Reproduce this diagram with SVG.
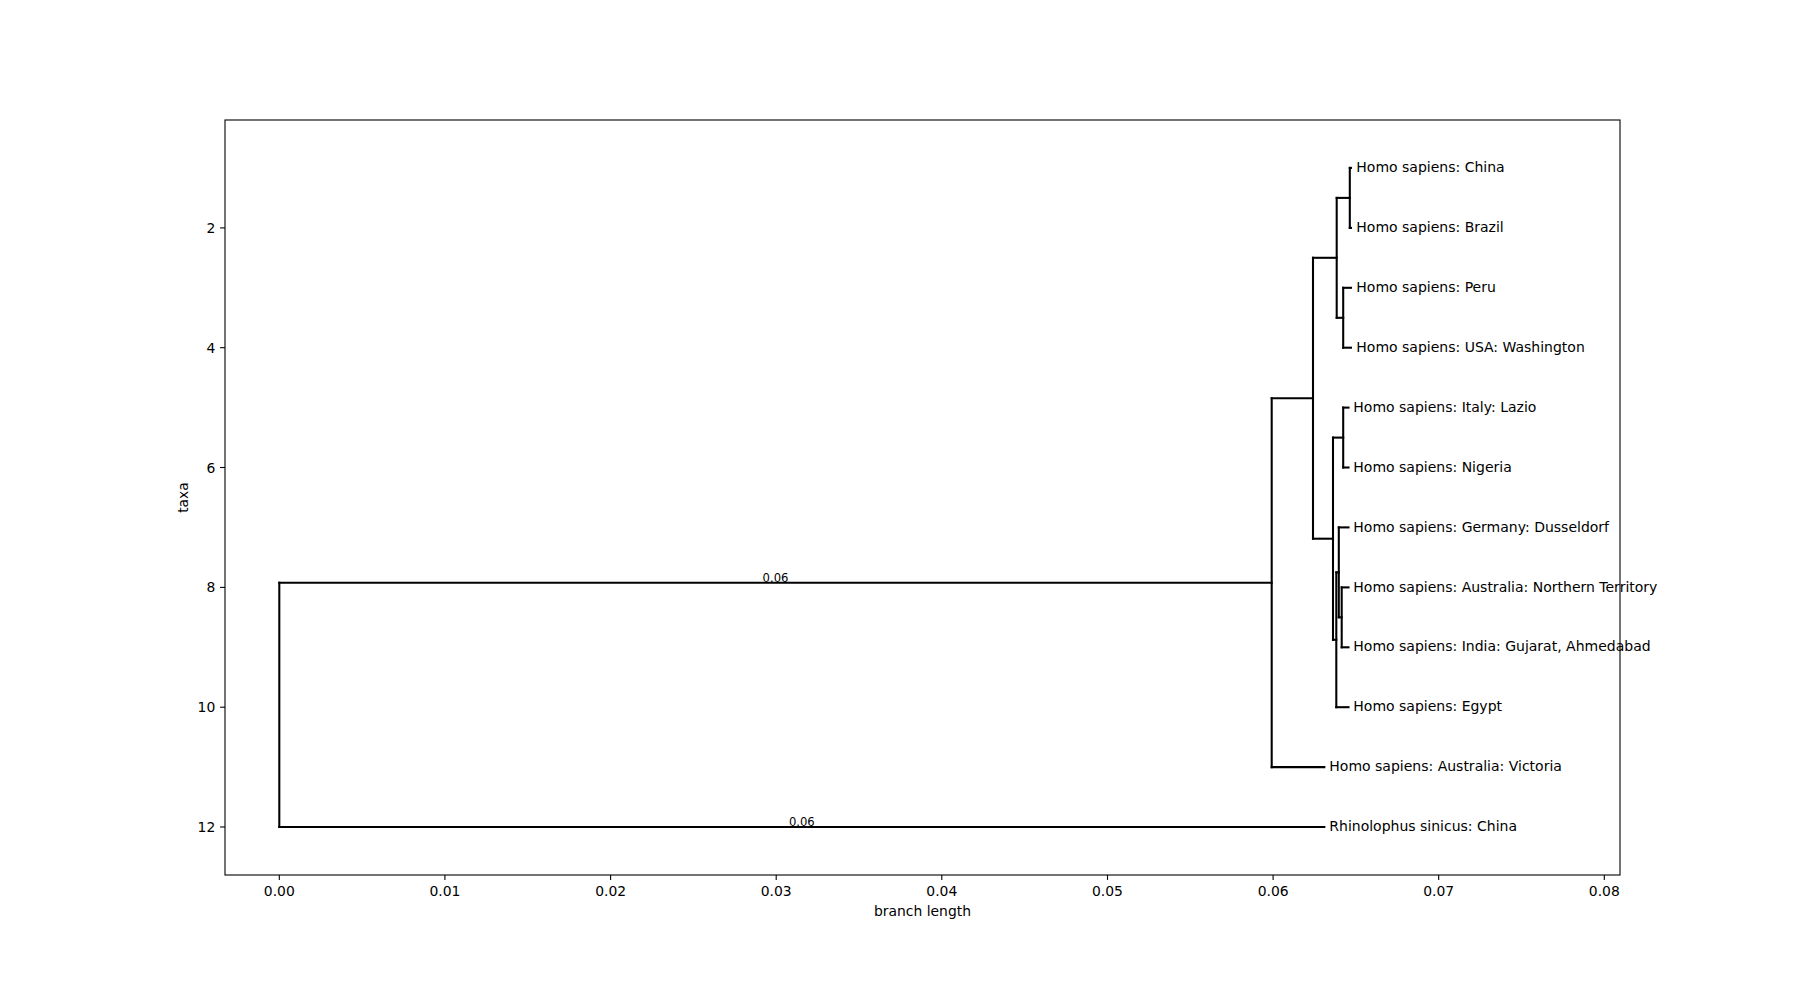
<svg xmlns="http://www.w3.org/2000/svg" width="1800" height="1000" viewBox="0 0 1800 1000">
<style>
text { font-family: "DejaVu Sans", "Liberation Sans", sans-serif; fill: #000; }
.tick { font-size: 13.9px; }
.leaf { font-size: 14px; }
.bl { font-size: 11.6px; text-anchor: middle; }
.axl { font-size: 13.9px; text-anchor: middle; }
.tree line { stroke: #000; stroke-width: 2.08; stroke-linecap: square; }
.tk line { stroke: #000; stroke-width: 1.1; }
</style>
<rect width="1800" height="1000" fill="#fff"/>
<g id="axes">
<rect x="225" y="120" width="1395" height="755" fill="none" stroke="#000" stroke-width="1.1"/>
<g class="tk">
<line x1="220.1" y1="227.9" x2="225" y2="227.9"/>
<line x1="220.1" y1="347.7" x2="225" y2="347.7"/>
<line x1="220.1" y1="467.5" x2="225" y2="467.5"/>
<line x1="220.1" y1="587.4" x2="225" y2="587.4"/>
<line x1="220.1" y1="707.2" x2="225" y2="707.2"/>
<line x1="220.1" y1="827" x2="225" y2="827"/>
<line x1="279.3" y1="875" x2="279.3" y2="879.9"/>
<line x1="444.9" y1="875" x2="444.9" y2="879.9"/>
<line x1="610.6" y1="875" x2="610.6" y2="879.9"/>
<line x1="776.2" y1="875" x2="776.2" y2="879.9"/>
<line x1="941.8" y1="875" x2="941.8" y2="879.9"/>
<line x1="1107.5" y1="875" x2="1107.5" y2="879.9"/>
<line x1="1273.1" y1="875" x2="1273.1" y2="879.9"/>
<line x1="1438.7" y1="875" x2="1438.7" y2="879.9"/>
<line x1="1604.3" y1="875" x2="1604.3" y2="879.9"/>
</g>
<g class="tick" text-anchor="end">
<text x="215.3" y="232.9">2</text>
<text x="215.3" y="352.7">4</text>
<text x="215.3" y="472.5">6</text>
<text x="215.3" y="592.4">8</text>
<text x="215.3" y="712.2">10</text>
<text x="215.3" y="832">12</text>
</g>
<g class="tick" text-anchor="middle">
<text x="279.3" y="896">0.00</text>
<text x="444.9" y="896">0.01</text>
<text x="610.6" y="896">0.02</text>
<text x="776.2" y="896">0.03</text>
<text x="941.8" y="896">0.04</text>
<text x="1107.5" y="896">0.05</text>
<text x="1273.1" y="896">0.06</text>
<text x="1438.7" y="896">0.07</text>
<text x="1604.3" y="896">0.08</text>
</g>
<text class="axl" x="922.5" y="915.5">branch length</text>
<text class="axl" x="188" y="497.5" transform="rotate(-90 188 497.5)">taxa</text>
</g>
<g id="connectors" class="tree">
<line x1="279.3" y1="582.7" x2="1271.7" y2="582.7"/>
<line x1="279.3" y1="827" x2="1324.3" y2="827"/>
<line x1="279.3" y1="582.7" x2="279.3" y2="827"/>
<line x1="1271.7" y1="398.2" x2="1313" y2="398.2"/>
<line x1="1271.7" y1="767.1" x2="1324.3" y2="767.1"/>
<line x1="1271.7" y1="398.2" x2="1271.7" y2="767.1"/>
<line x1="1313" y1="257.8" x2="1336.7" y2="257.8"/>
<line x1="1313" y1="538.7" x2="1333" y2="538.7"/>
<line x1="1313" y1="257.8" x2="1313" y2="538.7"/>
<line x1="1336.7" y1="197.9" x2="1349.8" y2="197.9"/>
<line x1="1336.7" y1="317.8" x2="1343.2" y2="317.8"/>
<line x1="1336.7" y1="197.9" x2="1336.7" y2="317.8"/>
<line x1="1349.8" y1="167.9" x2="1351" y2="167.9"/>
<line x1="1349.8" y1="227.9" x2="1351" y2="227.9"/>
<line x1="1349.8" y1="167.9" x2="1349.8" y2="227.9"/>
<line x1="1343.2" y1="287.8" x2="1351" y2="287.8"/>
<line x1="1343.2" y1="347.7" x2="1351" y2="347.7"/>
<line x1="1343.2" y1="287.8" x2="1343.2" y2="347.7"/>
<line x1="1333" y1="437.6" x2="1343.2" y2="437.6"/>
<line x1="1333" y1="639.8" x2="1336.3" y2="639.8"/>
<line x1="1333" y1="437.6" x2="1333" y2="639.8"/>
<line x1="1343.2" y1="407.6" x2="1348.5" y2="407.6"/>
<line x1="1343.2" y1="467.5" x2="1348.5" y2="467.5"/>
<line x1="1343.2" y1="407.6" x2="1343.2" y2="467.5"/>
<line x1="1336.3" y1="572.4" x2="1338.8" y2="572.4"/>
<line x1="1336.3" y1="707.2" x2="1348.5" y2="707.2"/>
<line x1="1336.3" y1="572.4" x2="1336.3" y2="707.2"/>
<line x1="1338.8" y1="527.4" x2="1348.5" y2="527.4"/>
<line x1="1338.8" y1="617.3" x2="1341.7" y2="617.3"/>
<line x1="1338.8" y1="527.4" x2="1338.8" y2="617.3"/>
<line x1="1341.7" y1="587.4" x2="1348.5" y2="587.4"/>
<line x1="1341.7" y1="647.3" x2="1348.5" y2="647.3"/>
<line x1="1341.7" y1="587.4" x2="1341.7" y2="647.3"/>
</g>
<g id="branch-labels">
<text class="bl" x="775.5" y="582">0.06</text>
<text class="bl" x="801.8" y="826.3">0.06</text>
</g>
<g id="leaf-china" class="leaf"><text x="1356.3" y="172">Homo sapiens: China</text></g>
<g id="leaf-brazil" class="leaf"><text x="1356.3" y="232">Homo sapiens: Brazil</text></g>
<g id="leaf-peru" class="leaf"><text x="1356.3" y="291.9">Homo sapiens: Peru</text></g>
<g id="leaf-usa" class="leaf"><text x="1356.3" y="351.8">Homo sapiens: USA: Washington</text></g>
<g id="leaf-italy" class="leaf"><text x="1353.3" y="411.7">Homo sapiens: Italy: Lazio</text></g>
<g id="leaf-nigeria" class="leaf"><text x="1353.3" y="471.6">Homo sapiens: Nigeria</text></g>
<g id="leaf-germany" class="leaf"><text x="1353.3" y="531.5">Homo sapiens: Germany: Dusseldorf</text></g>
<g id="leaf-australia-nt" class="leaf"><text x="1353.3" y="591.5">Homo sapiens: Australia: Northern Territory</text></g>
<g id="leaf-india" class="leaf"><text x="1353.3" y="651.4">Homo sapiens: India: Gujarat, Ahmedabad</text></g>
<g id="leaf-egypt" class="leaf"><text x="1353.3" y="711.3">Homo sapiens: Egypt</text></g>
<g id="leaf-victoria" class="leaf"><text x="1329.3" y="771.2">Homo sapiens: Australia: Victoria</text></g>
<g id="leaf-rhinolophus" class="leaf"><text x="1329.3" y="831.1">Rhinolophus sinicus: China</text></g>
</svg>
